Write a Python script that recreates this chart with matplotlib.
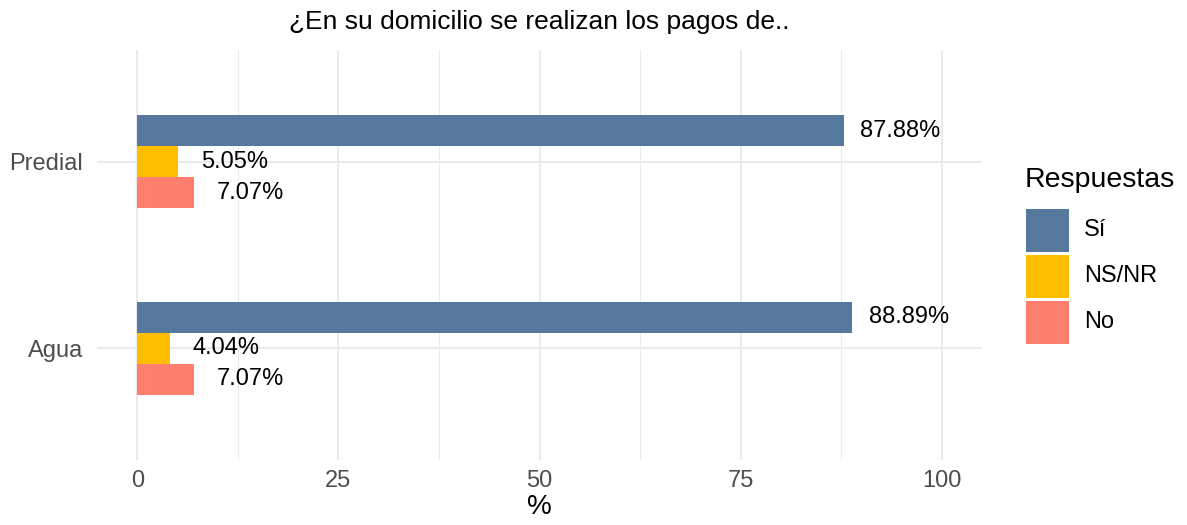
import matplotlib
matplotlib.use("Agg")
import matplotlib.pyplot as plt
from matplotlib.patches import Rectangle
import numpy as np

plt.rcParams['font.family'] = ['Liberation Sans', 'DejaVu Sans']

# Data
categories = ["Agua", "Predial"]
respuestas = ["Sí", "NS/NR", "No"]
si_vals = [88.89, 87.88]
nsnr_vals = [4.04, 5.05]
no_vals = [7.07, 7.07]
colores = ["#56789C", "#FFBF00", "#FF7F6E"]

series = [si_vals, nsnr_vals, no_vals]

W, H = 1187, 525
fig = plt.figure(figsize=(W / 100, H / 100), dpi=100)
ax = fig.add_axes([97 / W, 1 - 460 / H, (982 - 97) / W, (460 - 50) / H])

y = np.arange(1, len(categories) + 1)
bar_h = 1 / 6
offsets = [bar_h, 0, -bar_h]

for vals, off, col in zip(series, offsets, colores):
    ax.barh(y + off, vals, height=bar_h, color=col, zorder=3)
    for yi, v in zip(y, vals):
        ax.text(v + 7, yi + off, f"{v:.2f}%", ha="center", va="center",
                fontsize=17, color="black", zorder=4)

ax.set_xlim(-5, 105)
ax.set_ylim(0.4, 2.6)
ax.set_xticks([0, 25, 50, 75, 100])
ax.set_xticks([12.5, 37.5, 62.5, 87.5], minor=True)
ax.set_yticks(y)
ax.set_yticklabels(categories)

ax.grid(True, which="major", axis="both", color="#EBEBEB", linewidth=1.5, zorder=0)
ax.grid(True, which="minor", axis="x", color="#EBEBEB", linewidth=0.8, zorder=0)
ax.tick_params(axis="both", which="both", length=0, labelsize=17, labelcolor="#4D4D4D")
ax.tick_params(axis="x", pad=7)
ax.tick_params(axis="y", pad=10)
for s in ax.spines.values():
    s.set_visible(False)

ax.set_xlabel("%", fontsize=20, color="black", labelpad=2)
fig.text((97 + 982) / 2 / W, 1 - 22 / H, "¿En su domicilio se realizan los pagos de..",
         ha="center", va="center", fontsize=19, color="black")

# Legend
fig.text(1025 / W, 1 - 180 / H, "Respuestas", ha="left", va="center",
         fontsize=20.5, color="black")
key_tops = [209, 255, 301]
for top, col, lab in zip(key_tops, colores, respuestas):
    fig.add_artist(Rectangle((1026 / W, 1 - (top + 43) / H), 43 / W, 43 / H,
                             transform=fig.transFigure, facecolor=col,
                             edgecolor="none"))
    fig.text(1084 / W, 1 - (top + 21.5) / H, lab, ha="left", va="center",
             fontsize=17, color="black")

fig.savefig("out.png", dpi=100, facecolor="white")
